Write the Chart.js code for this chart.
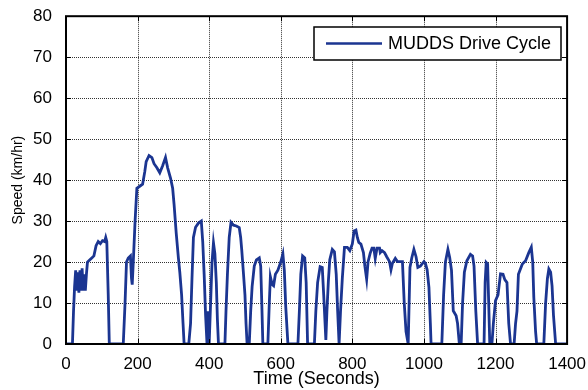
<!DOCTYPE html>
<html>
<head>
<meta charset="utf-8">
<script src="https://cdn.jsdelivr.net/npm/chart.js@4"></script>
<style>
  html, body { margin: 0; padding: 0; background: #fff; }
  #wrap { width: 588px; height: 390px; }
</style>
</head>
<body>
<div id="wrap"><canvas id="c" width="588" height="390"></canvas></div>
<script>
// MUDDS drive cycle
const times = [0,18,21,24,27,30,33,36,39,42,45,48,51,54,57,60,66,72,78,84,90,96,102,108,111,114,118,121,
  160,165,169,174,180,183,185,188,193,198,206,214,220,224,232,240,246,254,262,270,278,284,292,298,302,308,314,318,323,327,330,
  343,348,352,356,362,370,378,382,386,390,394,397,400,404,408,412,416,420,423,426,
  444,447,451,456,461,468,476,484,488,491,496,500,503,506,512,516,520,526,532,540,544,547,550,
  564,568,571,576,580,585,592,600,606,610,614,620,648,652,656,661,667,671,675,
  694,698,703,710,716,720,726,729,733,737,744,750,755,759,763,767,772,778,786,793,800,805,810,814,818,824,831,835,840,844,850,855,860,864,869,876,878,883,890,896,904,908,912,920,926,933,940,945,950,956,958,
  961,966,972,978,983,990,1000,1004,1009,1014,1018,1020,1050,1055,1060,1067,1072,1077,1082,1090,1094,1099,
  1104,1108,1113,1120,1130,1136,1140,1145,1150,1168,1171,1174,1178,1181,1184,1190,1194,1200,1207,1214,1221,1226,1232,1237,1242,
  1252,1256,1260,1264,1275,1284,1293,1300,1304,1307,1312,1315,1335,1340,1345,1349,1354,1358,1362,1368,1400];
const speeds = [0,0,8,14,18,13,17.5,12.5,18,13,18.5,13,17,13,17,20,20.5,21,21.5,24,25,24.5,25.2,25,26,25,12,0,
  0,10,20,21,21.5,16,14.5,20,30,38,38.5,39,42,44.5,46,45.5,44,43,41.8,43.5,45.5,43,40.5,38,34,27,21,17.5,12,5,0,
  0,5,16,26,28.5,29.5,30,25,17,7,0,8,0,10,20,24.7,22,15,6,0,
  0,8,17,26,29.7,29,28.8,28.4,26,23,17,12,5,0,0,8,14,19,20.5,21,19,10,0,
  0,10,16.4,14.5,14.2,17,18,20,22,18,9,0,0,8,17,21.5,21,15,0,
  0,8,15,18.9,18.7,12,1,8,15.3,20.6,23.1,22.5,17,8,0,8,16,23.6,23.6,22.8,24.4,27.6,27.8,26,24.8,24.4,22.3,19,15.8,20.1,22.2,23.4,23.4,20.9,23.4,23.4,22.3,22.8,22.3,21.3,20.1,18.1,19.7,20.9,20.1,20.1,20.1,10,3,0,0,
  18.7,21,23.1,21.3,18.7,19,20.1,19.7,18.1,13.8,5,0,0,12,20,23.1,21.1,18,8.1,6.9,5,0,
  0,10,17.5,20.3,21.9,21.5,19,8,0,0,15,19.9,19.5,10,0,0,5,10.6,12,17.1,17,15.7,15,5,0,
  0,5,8,17,19.5,20.3,22.3,23.6,20,11.4,3,0,0,10,16,18.3,17.5,14.2,7,0,0];
const xTicks = [0,200,400,600,800,1000,1200,1400];
const yTicks = [0,10,20,30,40,50,60,70,80];
const seriesName = 'MUDDS Drive Cycle';

const points = times.map((t, i) => ({ x: t, y: speeds[i] }));
const lineColor = '#1b3591';
const font = 'Arial, "Liberation Sans", sans-serif';

// dotted grid behind the trace
const gridPlugin = {
  id: 'dotGrid',
  beforeDatasetsDraw(chart) {
    const { ctx, chartArea: a, scales } = chart;
    ctx.save();
    ctx.strokeStyle = '#333';
    ctx.lineWidth = 1;
    ctx.setLineDash([1, 1]);
    xTicks.slice(1, -1).forEach(v => {
      const x = Math.round(scales.x.getPixelForValue(v)) + 0.5;
      ctx.beginPath(); ctx.moveTo(x, a.top); ctx.lineTo(x, a.bottom); ctx.stroke();
    });
    yTicks.slice(1, -1).forEach(v => {
      const y = Math.round(scales.y.getPixelForValue(v)) + 0.5;
      ctx.beginPath(); ctx.moveTo(a.left, y); ctx.lineTo(a.right, y); ctx.stroke();
    });
    ctx.restore();
  }
};

// MATLAB-style box, inward ticks and legend inside the axes
const boxPlugin = {
  id: 'box',
  afterDraw(chart) {
    const { ctx, chartArea: a, scales } = chart;
    ctx.save();
    ctx.strokeStyle = '#000';
    ctx.lineWidth = 2;
    ctx.strokeRect(a.left, a.top, a.right - a.left, a.bottom - a.top);
    ctx.lineWidth = 1;
    xTicks.forEach(v => {
      const x = Math.round(scales.x.getPixelForValue(v)) + 0.5;
      ctx.beginPath();
      ctx.moveTo(x, a.bottom); ctx.lineTo(x, a.bottom - 5);
      ctx.moveTo(x, a.top); ctx.lineTo(x, a.top + 5);
      ctx.stroke();
    });
    yTicks.forEach(v => {
      const y = Math.round(scales.y.getPixelForValue(v)) + 0.5;
      ctx.beginPath();
      ctx.moveTo(a.left, y); ctx.lineTo(a.left + 5, y);
      ctx.moveTo(a.right, y); ctx.lineTo(a.right - 5, y);
      ctx.stroke();
    });
    // legend
    const lx = 314, ly = 27, lw = 247, lh = 33;
    ctx.fillStyle = '#fff';
    ctx.fillRect(lx, ly, lw, lh);
    ctx.lineWidth = 1.5;
    ctx.strokeRect(lx, ly, lw, lh);
    ctx.strokeStyle = lineColor;
    ctx.lineWidth = 2.5;
    ctx.beginPath();
    ctx.moveTo(lx + 12, ly + lh / 2); ctx.lineTo(lx + 68, ly + lh / 2);
    ctx.stroke();
    ctx.fillStyle = '#000';
    ctx.font = '18px ' + font;
    ctx.textBaseline = 'middle';
    ctx.fillText(seriesName, lx + 74, ly + lh / 2 + 1);
    ctx.restore();
  }
};

new Chart(document.getElementById('c'), {
  type: 'line',
  data: {
    datasets: [{
      label: seriesName,
      data: points,
      borderColor: lineColor,
      borderWidth: 2.8,
      pointRadius: 0,
      tension: 0,
      fill: false
    }]
  },
  options: {
    responsive: false,
    animation: false,
    layout: { padding: { top: 15, right: 18, left: 10, bottom: 0 } },
    plugins: { legend: { display: false }, tooltip: { enabled: false } },
    scales: {
      x: {
        type: 'linear', min: 0, max: 1400,
        afterBuildTicks: s => { s.ticks = xTicks.map(v => ({ value: v })); },
        afterFit: s => { s.height = 46; },
        ticks: { color: '#000', font: { size: 17, family: font }, padding: 2, maxRotation: 0, callback: v => String(v) },
        grid: { display: false },
        border: { display: false },
        title: { display: true, text: 'Time (Seconds)', color: '#000', font: { size: 18, family: font }, padding: { top: 0, bottom: 0 } }
      },
      y: {
        min: 0, max: 80,
        afterBuildTicks: s => { s.ticks = yTicks.map(v => ({ value: v })); },
        afterFit: s => { s.width = 56; },
        ticks: { color: '#000', font: { size: 17, family: font }, padding: 6, callback: v => String(v) },
        grid: { display: false },
        border: { display: false },
        title: { display: true, text: 'Speed (km/hr)', color: '#000', font: { size: 14, family: font }, padding: { top: 0, bottom: 2 } }
      }
    }
  },
  plugins: [gridPlugin, boxPlugin]
});
</script>
</body>
</html>
